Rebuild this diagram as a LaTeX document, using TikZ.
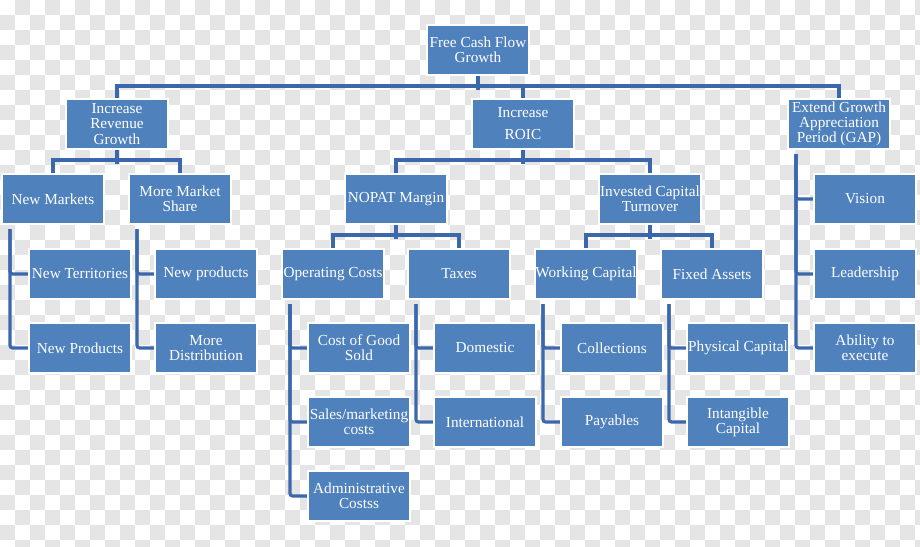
\documentclass[tikz,border=0pt]{standalone}
\usepackage{fontspec}
\setmainfont{Liberation Serif}
\usetikzlibrary{calc}
\definecolor{boxblue}{HTML}{4F81BD}
\definecolor{wireblue}{HTML}{3B68AC}
\pgfdeclarelayer{grid}
\pgfdeclarelayer{wires}
\pgfsetlayers{grid,wires,main}

\begin{document}
\begin{tikzpicture}[
    x=0.02cm, y=-0.02cm,
    box/.style={rectangle, fill=boxblue, draw=white, line width=1.2pt,
                minimum width=2.04cm, minimum height=1cm, inner sep=0pt,
                align=center, text=white, font=\fontsize{8.7}{8.6}\selectfont},
    link/.style={draw=wireblue, line width=1.8pt},
    tile/.style={fill=black!10}
]
    \useasboundingbox (0,0) rectangle (920,547);
    \begin{pgfonlayer}{grid}
        \fill[white] (0,0) rectangle (920,547);
        \clip (0,0) rectangle (920,547);
        \foreach \i in {0,...,61}{
            \pgfmathtruncatemacro\st{mod(\i+1,2)}
            \pgfmathtruncatemacro\nx{\st+2}
            \foreach \j in {\st,\nx,...,36}
                \fill[tile] (15*\i,15*\j) rectangle ++(15,15);
        }
    \end{pgfonlayer}

    \node[box] (fcf)   at (478,50)  {Free Cash Flow\\Growth};
    \node[box] (irg)   at (117,124) {Increase\\Revenue\\Growth};
    \node[box] (roic)  at (523,124) {Increase\\[4pt]ROIC};
    \node[box] (gap)   at (839,124) {Extend Growth\\Appreciation\\Period (GAP)};

    \node[box] (nm)    at (53,199)  {New Markets};
    \node[box] (mms)   at (180,199) {More Market\\Share};
    \node[box] (nopat) at (396,199) {NOPAT Margin};
    \node[box] (ict)   at (650,199) {Invested Capital\\Turnover};
    \node[box] (vis)   at (865,199) {Vision};

    \node[box] (nt)    at (80,274)  {New Territories};
    \node[box] (nprd)  at (206,274) {New products};
    \node[box] (oc)    at (333,274) {Operating Costs};
    \node[box] (tax)   at (459,274) {Taxes};
    \node[box] (wc)    at (586,274) {Working Capital};
    \node[box] (fa)    at (712,274) {Fixed Assets};
    \node[box] (lead)  at (865,274) {Leadership};

    \node[box] (nprod) at (80,348)  {New Products};
    \node[box] (mdist) at (206,348) {More\\Distribution};
    \node[box] (cogs)  at (359,348) {Cost of Good\\Sold};
    \node[box] (dom)   at (485,348) {Domestic};
    \node[box] (coll)  at (612,348) {Collections};
    \node[box] (phys)  at (738,348) {Physical Capital};
    \node[box] (able)  at (865,348) {Ability to\\execute};

    \node[box] (sales) at (359,422) {Sales/marketing\\costs};
    \node[box] (intl)  at (485,422) {International};
    \node[box] (pay)   at (612,422) {Payables};
    \node[box] (intan) at (738,422) {Intangible\\Capital};

    \node[box] (admin) at (359,496) {Administrative\\Costss};

    \begin{pgfonlayer}{wires}
        \draw[link] (fcf.south) -- ++(0,14);
        \draw[link] (irg.north) -- ++(0,-12) -| (gap.north);
        \draw[link] (roic.north) -- ++(0,-12);

        \draw[link] (irg.south) -- ++(0,14);
        \draw[link] (nm.north) -- ++(0,-13) -| (mms.north);
        \draw[link] (roic.south) -- ++(0,14);
        \draw[link] (nopat.north) -- ++(0,-13) -| (ict.north);

        \draw[link] (nopat.south) -- ++(0,14);
        \draw[link] (oc.north) -- ++(0,-13) -| (tax.north);
        \draw[link] (ict.south) -- ++(0,14);
        \draw[link] (wc.north) -- ++(0,-13) -| (fa.north);

        \foreach \p/\c in {nm/nt, nm/nprod, mms/nprd, mms/mdist,
                           oc/cogs, oc/sales, oc/admin, tax/dom, tax/intl,
                           wc/coll, wc/pay, fa/phys, fa/intan,
                           gap/vis, gap/lead, gap/able}
            \draw[link, rounded corners=1.5pt] ($(\p.south west)+(9,4)$) |- (\c.west);
    \end{pgfonlayer}
\end{tikzpicture}
\end{document}
